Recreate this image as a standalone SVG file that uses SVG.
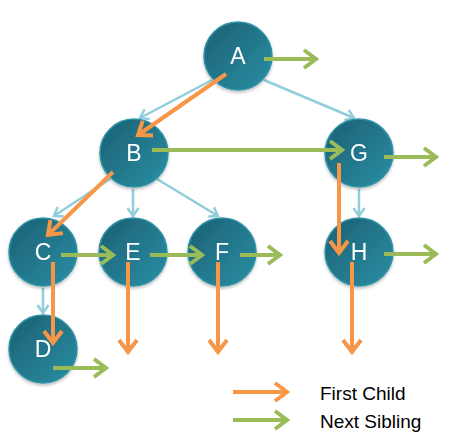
<svg xmlns="http://www.w3.org/2000/svg" width="453" height="442" viewBox="0 0 453 442">
<style>
.node circle{fill:url(#ng);stroke:#2f93a8;stroke-width:1.5}
.node text{font-family:"Liberation Sans",Arial,sans-serif;font-size:23px;fill:#fff;text-anchor:middle;dominant-baseline:central}
.tree line{stroke:#92cddc;stroke-width:2.5;marker-end:url(#mb)}
.fc{stroke:#f79646;stroke-width:4;fill:none;marker-end:url(#mo)}
.ns{stroke:#9bbb59;stroke-width:4;fill:none;marker-end:url(#mg)}
.lg{font-family:"Liberation Sans",Arial,sans-serif;font-size:19px;fill:#000}
</style>
<defs>
<linearGradient id="ng" x1="0" y1="0" x2="1" y2="1">
<stop offset="0" stop-color="#1b5f73"/>
<stop offset="1" stop-color="#2b8fa4"/>
</linearGradient>
<filter id="sh" x="-20%" y="-20%" width="140%" height="150%">
<feDropShadow dx="0" dy="2" stdDeviation="1.5" flood-color="#000" flood-opacity="0.25"/>
</filter>
<marker id="mb" viewBox="0 0 12 14" refX="10" refY="7" markerWidth="12" markerHeight="14" markerUnits="userSpaceOnUse" orient="auto">
<path d="M2,1.5 L10,7 L2,12.5" fill="none" stroke="#92cddc" stroke-width="2.5"/>
</marker>
<marker id="mo" viewBox="0 0 18 22" refX="14" refY="11" markerWidth="18" markerHeight="22" markerUnits="userSpaceOnUse" orient="auto">
<path d="M2,2 L14,11 L2,20" fill="none" stroke="#f79646" stroke-width="4"/>
</marker>
<marker id="mg" viewBox="0 0 18 22" refX="14" refY="11" markerWidth="18" markerHeight="22" markerUnits="userSpaceOnUse" orient="auto">
<path d="M2,2 L14,11 L2,20" fill="none" stroke="#9bbb59" stroke-width="4"/>
</marker>
</defs>
<g id="tree-edges" class="tree">
<line x1="212" y1="80" x2="140" y2="118"/>
<line x1="264" y1="80" x2="354" y2="118"/>
<line x1="110" y1="179" x2="54" y2="216"/>
<line x1="133" y1="189" x2="133" y2="216"/>
<line x1="157" y1="179" x2="218" y2="216"/>
<line x1="359" y1="189" x2="359" y2="216"/>
<line x1="43" y1="288" x2="43" y2="313"/>
</g>
<g filter="url(#sh)">
<g id="node-A" class="node"><circle cx="238" cy="56" r="34"/><text x="238" y="56">A</text></g>
<g id="node-B" class="node"><circle cx="134" cy="153" r="34"/><text x="134" y="153">B</text></g>
<g id="node-G" class="node"><circle cx="359" cy="153" r="34"/><text x="359" y="153">G</text></g>
<g id="node-C" class="node"><circle cx="43" cy="252" r="34"/><text x="43" y="252">C</text></g>
<g id="node-E" class="node"><circle cx="133" cy="252" r="34"/><text x="133" y="252">E</text></g>
<g id="node-F" class="node"><circle cx="222" cy="252" r="34"/><text x="222" y="252">F</text></g>
<g id="node-H" class="node"><circle cx="359" cy="252" r="34"/><text x="359" y="252">H</text></g>
<g id="node-D" class="node"><circle cx="43" cy="349" r="34"/><text x="43" y="349">D</text></g>
</g>
<g id="links">
<line class="fc" x1="226" y1="74" x2="138" y2="135"/>
<line class="fc" x1="113" y1="172" x2="48" y2="235"/>
<line class="fc" x1="53" y1="262" x2="53" y2="343"/>
<line class="fc" x1="128" y1="262" x2="128" y2="352"/>
<line class="fc" x1="218" y1="262" x2="218" y2="352"/>
<line class="fc" x1="339" y1="163" x2="339" y2="253"/>
<line class="fc" x1="352" y1="262" x2="352" y2="352"/>
<line class="ns" x1="264" y1="59" x2="316" y2="59"/>
<line class="ns" x1="152" y1="150" x2="342" y2="150"/>
<line class="ns" x1="384" y1="157" x2="436" y2="157"/>
<line class="ns" x1="61" y1="255" x2="113" y2="255"/>
<line class="ns" x1="150" y1="255" x2="202" y2="255"/>
<line class="ns" x1="240" y1="255" x2="280" y2="255"/>
<line class="ns" x1="384" y1="254" x2="436" y2="254"/>
<line class="ns" x1="53" y1="368" x2="106" y2="368"/>
</g>
<g id="legend">
<line class="fc" x1="233" y1="392" x2="287" y2="392"/>
<line class="ns" x1="233" y1="420" x2="287" y2="420"/>
<text class="lg" x="320" y="400">First Child</text>
<text class="lg" x="320" y="428">Next Sibling</text>
</g>
</svg>
